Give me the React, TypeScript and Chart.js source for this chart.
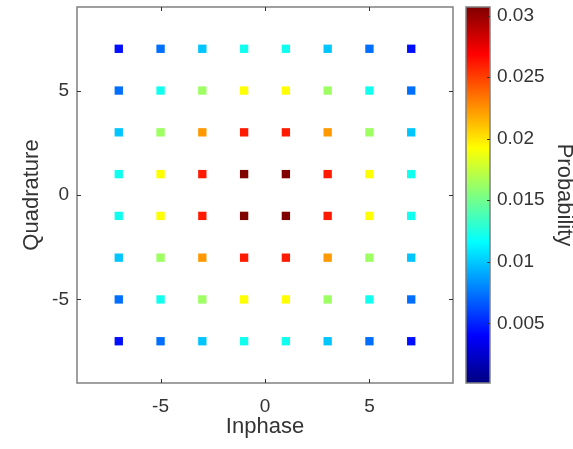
import React, { useEffect, useRef } from "react";
import { Chart, registerables } from "chart.js";

Chart.register(...registerables);

// ---- data ----
const inphaseLevels = [-7, -5, -3, -1, 1, 3, 5, 7];
const quadratureLevels = [7, 5, 3, 1, -1, -3, -5, -7];
const probabilityGrid = [
  [0.0044, 0.0073, 0.0099, 0.0121, 0.0121, 0.0099, 0.0073, 0.0044],
  [0.0073, 0.0121, 0.0163, 0.0192, 0.0192, 0.0163, 0.0121, 0.0073],
  [0.0099, 0.0163, 0.0223, 0.0261, 0.0261, 0.0223, 0.0163, 0.0099],
  [0.0121, 0.0192, 0.0261, 0.0307, 0.0307, 0.0261, 0.0192, 0.0121],
  [0.0121, 0.0192, 0.0261, 0.0307, 0.0307, 0.0261, 0.0192, 0.0121],
  [0.0099, 0.0163, 0.0223, 0.0261, 0.0261, 0.0223, 0.0163, 0.0099],
  [0.0073, 0.0121, 0.0163, 0.0192, 0.0192, 0.0163, 0.0121, 0.0073],
  [0.0044, 0.0073, 0.0099, 0.0121, 0.0121, 0.0099, 0.0073, 0.0044],
];
const axisTicks = [-5, 0, 5];
const colorbarTicks = [0.005, 0.01, 0.015, 0.02, 0.025, 0.03];
const colorbarTickLabels = ["0.005", "0.01", "0.015", "0.02", "0.025", "0.03"];
const colorMin = 0.00015;
const colorMax = 0.0307;

// ---- styling helpers ----
const FONT = '"Liberation Sans", Arial, Helvetica, sans-serif';
const TEXT = "#333333";
const clamp = (v: number) => Math.max(0, Math.min(1, v));
function jet(t: number): string {
  const r = clamp(1.5 - Math.abs(4 * t - 3));
  const g = clamp(1.5 - Math.abs(4 * t - 2));
  const b = clamp(1.5 - Math.abs(4 * t - 1));
  return `rgb(${Math.round(r * 255)},${Math.round(g * 255)},${Math.round(b * 255)})`;
}
const toFrac = (p: number) => (p - colorMin) / (colorMax - colorMin);

const zeroPadding = (s: any) => {
  s.paddingTop = 0;
  s.paddingBottom = 0;
  s.paddingLeft = 0;
  s.paddingRight = 0;
};

const framePlugin = {
  id: "frame",
  afterDraw(chart: any) {
    const { ctx, chartArea: a, scales } = chart;
    const c = scales.c;
    ctx.save();
    // colorbar
    const cbLeft = a.right + 13;
    const cbWidth = 24;
    const top = c.getPixelForValue(colorMax);
    const bottom = c.getPixelForValue(colorMin);
    const grad = ctx.createLinearGradient(0, bottom, 0, top);
    [0, 0.125, 0.375, 0.625, 0.875, 1].forEach((s) => grad.addColorStop(s, jet(s)));
    ctx.fillStyle = grad;
    ctx.fillRect(cbLeft, top, cbWidth, bottom - top);
    ctx.strokeStyle = "#808080";
    ctx.lineWidth = 1.5;
    ctx.strokeRect(cbLeft, top, cbWidth, bottom - top);
    // colorbar ticks
    ctx.strokeStyle = "#333333";
    ctx.lineWidth = 1;
    c.ticks.forEach((t: any) => {
      const y = Math.round(c.getPixelForValue(t.value)) + 0.5;
      ctx.beginPath();
      ctx.moveTo(cbLeft + cbWidth, y);
      ctx.lineTo(cbLeft + cbWidth - 3, y);
      ctx.stroke();
    });
    // plot box
    ctx.strokeStyle = "#808080";
    ctx.lineWidth = 1.5;
    ctx.strokeRect(a.left, a.top, a.right - a.left, a.bottom - a.top);
    // inward ticks
    ctx.strokeStyle = "#333333";
    ctx.lineWidth = 1;
    const tl = 4;
    scales.x.ticks.forEach((t: any) => {
      const x = Math.round(scales.x.getPixelForValue(t.value)) + 0.5;
      ctx.beginPath();
      ctx.moveTo(x, a.bottom);
      ctx.lineTo(x, a.bottom - tl);
      ctx.moveTo(x, a.top);
      ctx.lineTo(x, a.top + tl);
      ctx.stroke();
    });
    scales.y.ticks.forEach((t: any) => {
      const y = Math.round(scales.y.getPixelForValue(t.value)) + 0.5;
      ctx.beginPath();
      ctx.moveTo(a.left, y);
      ctx.lineTo(a.left + tl, y);
      ctx.moveTo(a.right, y);
      ctx.lineTo(a.right - tl, y);
      ctx.stroke();
    });
    ctx.restore();
  },
};

export default function App() {
  const ref = useRef<HTMLCanvasElement | null>(null);

  useEffect(() => {
    if (!ref.current) return;
    const points: { x: number; y: number }[] = [];
    const colors: string[] = [];
    quadratureLevels.forEach((q, r) => {
      inphaseLevels.forEach((i, k) => {
        points.push({ x: i, y: q });
        colors.push(jet(toFrac(probabilityGrid[r][k])));
      });
    });

    const tickFont = { family: FONT, size: 19 };
    const titleFont = { family: FONT, size: 22 };

    const chart = new Chart(ref.current, {
      type: "scatter",
      data: {
        datasets: [
          {
            data: points,
            backgroundColor: colors,
            borderWidth: 0,
            pointStyle: "rect",
            pointRadius: 5.9,
            pointHoverRadius: 5.9,
          },
        ],
      },
      options: {
        animation: false,
        responsive: false,
        events: [],
        layout: { padding: { top: 7, left: 0, right: 0, bottom: 0 } },
        plugins: { legend: { display: false }, tooltip: { enabled: false } },
        scales: {
          x: {
            type: "linear",
            position: "bottom",
            min: -9,
            max: 9,
            afterBuildTicks: (s: any) => {
              s.ticks = axisTicks.map((v) => ({ value: v }));
            },
            afterFit: (s: any) => {
              s.height = 66;
              zeroPadding(s);
            },
            grid: { display: false, drawTicks: false },
            border: { display: false },
            ticks: { padding: 12, font: tickFont, color: TEXT, maxRotation: 0 },
            title: {
              display: true,
              text: "Inphase",
              font: titleFont,
              color: TEXT,
              padding: { top: 0, bottom: 9 },
            },
          },
          y: {
            type: "linear",
            position: "left",
            min: -9,
            max: 9,
            afterBuildTicks: (s: any) => {
              s.ticks = axisTicks.map((v) => ({ value: v }));
            },
            afterFit: (s: any) => {
              s.width = 77;
              zeroPadding(s);
            },
            grid: { display: false, drawTicks: false },
            border: { display: false },
            ticks: { padding: 8, font: tickFont, color: TEXT },
            title: {
              display: true,
              text: "Quadrature",
              font: titleFont,
              color: TEXT,
              padding: { top: 19, bottom: 0 },
            },
          },
          c: {
            type: "linear",
            position: "right",
            min: colorMin,
            max: colorMax,
            afterBuildTicks: (s: any) => {
              s.ticks = colorbarTicks.map((v) => ({ value: v }));
            },
            afterFit: (s: any) => {
              s.width = 120;
              zeroPadding(s);
            },
            grid: { display: false, drawTicks: false },
            border: { display: false },
            ticks: {
              padding: 44,
              font: tickFont,
              color: TEXT,
              callback: (_v: any, i: number) => colorbarTickLabels[i],
            },
            title: {
              display: true,
              text: "Probability",
              font: titleFont,
              color: TEXT,
              padding: { top: -4, bottom: 0 },
            },
          },
        },
      },
      plugins: [framePlugin],
    });
    return () => chart.destroy();
  }, []);

  return (
    <canvas
      ref={ref}
      width={573}
      height={449}
      style={{ position: "absolute", left: 0, top: 0, display: "block", width: 573, height: 449 }}
    />
  );
}
